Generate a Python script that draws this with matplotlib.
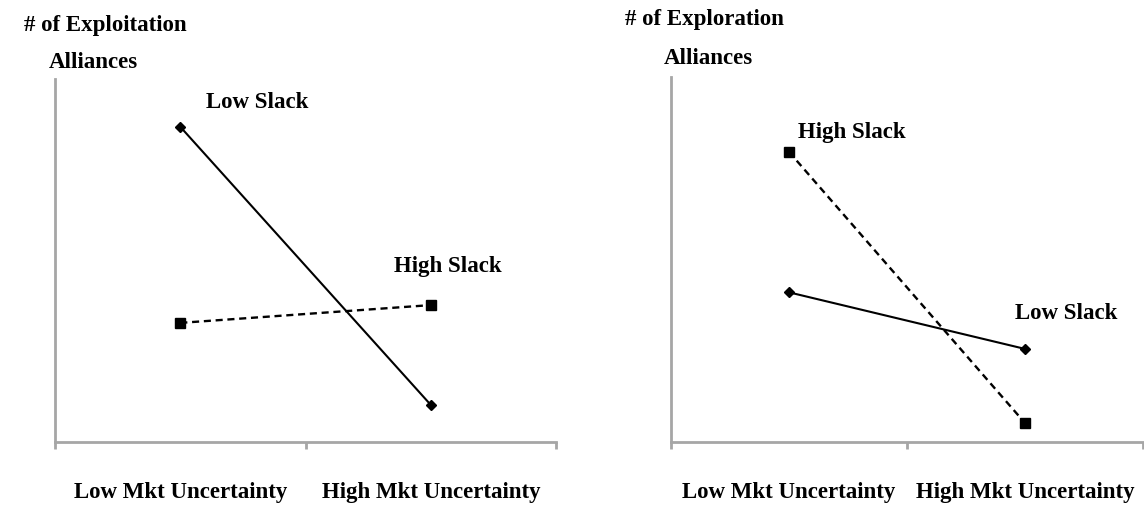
import matplotlib.pyplot as plt

categories = ['Low Mkt Uncertainty', 'High Mkt Uncertainty']
x_pos = [0.5, 1.5]

exploit_low_slack = [8.68, 1.02]
exploit_high_slack = [3.28, 3.77]
explore_high_slack = [7.95, 0.52]
explore_low_slack = [4.10, 2.55]

plt.rcParams['font.family'] = ['Liberation Serif', 'DejaVu Serif']
plt.rcParams['font.weight'] = 'bold'

fig = plt.figure(figsize=(11.44, 5.10), dpi=100)
ax1 = fig.add_axes([0.0481, 0.1314, 0.438, 0.712])
ax2 = fig.add_axes([0.5865, 0.1314, 0.4126, 0.7157])

axis_grey = '#a6a6a6'
font_sz = 16.5


def style_axes(ax):
    ax.set_xlim(0, 2)
    ax.set_ylim(0, 10)
    for s in ['top', 'right']:
        ax.spines[s].set_visible(False)
    for s in ['left', 'bottom']:
        ax.spines[s].set_color(axis_grey)
        ax.spines[s].set_linewidth(2)
    ax.set_yticks([])
    # category labels sit between the boundary ticks
    ax.set_xticks(x_pos)
    ax.set_xticklabels(categories, fontsize=font_sz, fontweight='bold')
    ax.tick_params(axis='x', which='major', length=0, pad=28)
    ax.set_xticks([0, 1, 2], minor=True)
    ax.tick_params(axis='x', which='minor', length=5, width=2,
                   color=axis_grey, direction='out')


style_axes(ax1)
style_axes(ax2)

solid = dict(color='black', lw=1.5, marker='D', markersize=5)
dashed = dict(color='black', lw=1.7, ls=(0, (3, 2)), marker='s',
              markersize=6.5, markerfacecolor='black')

ax1.plot(x_pos, exploit_low_slack, **solid)
ax1.plot(x_pos, exploit_high_slack, **dashed)
ax2.plot(x_pos, explore_high_slack, **dashed)
ax2.plot(x_pos, explore_low_slack, **solid)

lab = dict(fontsize=font_sz, fontweight='bold', ha='center', va='center')
ax1.text(0.806, 9.39, 'Low Slack', clip_on=False, **lab)
ax1.text(1.569, 4.85, 'High Slack', **lab)
ax2.text(0.767, 8.52, 'High Slack', **lab)
ax2.text(1.674, 3.56, 'Low Slack', **lab)

fig.text(105 / 1144, 1 - 25 / 510, '# of Exploitation', **lab)
fig.text(93 / 1144, 1 - 62 / 510, 'Alliances', **lab)
fig.text(704 / 1144, 1 - 20 / 510, '# of Exploration', **lab)
fig.text(708 / 1144, 1 - 58 / 510, 'Alliances', **lab)

fig.savefig('out.png', dpi=100)
